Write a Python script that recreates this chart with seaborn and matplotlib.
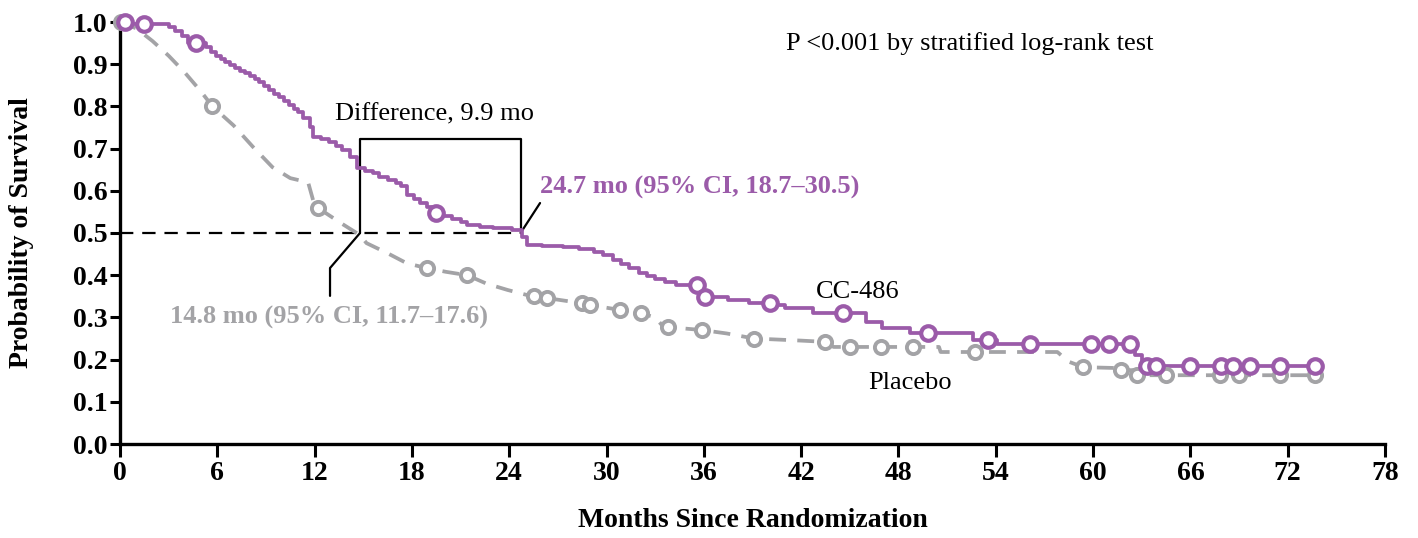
import numpy as np
import pandas as pd
import matplotlib
matplotlib.use("Agg")
import matplotlib.pyplot as plt
import seaborn as sns

# ---------------- data ----------------
# CC-486 Kaplan-Meier steps (time in months, survival probability after the step)
cc_times = [0, 0.5, 3.0, 3.4, 3.8, 4.2, 5.3, 5.6, 5.9, 6.2, 6.5, 6.8, 7.1, 7.4, 7.7, 8.0,
            8.3, 8.6, 8.9, 9.2, 9.5, 9.8, 10.1, 10.4, 10.7, 11.0, 11.3, 11.7, 11.9, 12.4,
            12.9, 13.3, 13.7, 14.2, 14.6, 15.1, 15.6, 16.0, 16.5, 17.0, 17.3, 17.7, 18.1,
            18.5, 18.9, 19.3, 19.9, 20.5, 21.0, 21.4, 22.2, 23.0, 24.2, 24.8, 25.1, 26.0,
            27.3, 28.3, 29.2, 29.8, 30.4, 30.9, 31.4, 32.0, 32.5, 33.0, 33.6, 34.3, 36.0,
            37.5, 38.8, 40.5, 41.0, 42.7, 46.0, 47.0, 48.7, 52.6, 54.1, 62.6, 63.0, 73.7]
cc_surv = [1.0, 0.995, 0.988, 0.978, 0.966, 0.95, 0.94, 0.93, 0.92, 0.912, 0.905, 0.898,
           0.892, 0.885, 0.878, 0.872, 0.865, 0.857, 0.848, 0.838, 0.83, 0.822, 0.812,
           0.803, 0.795, 0.786, 0.772, 0.752, 0.727, 0.722, 0.716, 0.706, 0.696, 0.680,
           0.655, 0.648, 0.642, 0.633, 0.625, 0.618, 0.612, 0.590, 0.580, 0.572, 0.562,
           0.548, 0.540, 0.532, 0.525, 0.519, 0.515, 0.512, 0.508, 0.490, 0.472, 0.470,
           0.467, 0.462, 0.455, 0.447, 0.436, 0.427, 0.417, 0.405, 0.398, 0.390, 0.383,
           0.377, 0.348, 0.341, 0.334, 0.329, 0.322, 0.310, 0.290, 0.275, 0.263, 0.246,
           0.238, 0.210, 0.185, 0.185]
cc_censor = [0.3, 1.5, 4.7, 19.5, 35.6, 36.1, 40.1, 44.6, 49.8, 53.5, 56.1, 59.9, 61.0,
             62.3, 63.3, 63.9, 66.0, 67.9, 68.6, 69.7, 71.5, 73.7]

# Placebo curve vertices
pl_times = [0, 1.0, 2.0, 3.0, 4.0, 5.0, 5.7, 7.0, 8.2, 9.4, 10.5, 11.6, 12.0, 12.5, 13.6,
            14.8, 15.2, 16.5, 17.7, 18.9, 20.1, 21.4, 22.6, 23.9, 25.1, 26.3, 28.4, 29.0,
            30.8, 32.1, 33.0, 33.5, 35.9, 37.4, 39.1, 42.0, 43.5, 44.0, 50.5, 50.6, 57.8,
            58.5, 59.4, 61.5, 61.7, 62.5, 62.7, 73.7]
pl_surv = [1.0, 0.985, 0.955, 0.92, 0.88, 0.835, 0.80, 0.755, 0.704, 0.656, 0.63, 0.62,
           0.565, 0.552, 0.524, 0.495, 0.476, 0.452, 0.428, 0.417, 0.408, 0.40, 0.38,
           0.365, 0.353, 0.346, 0.334, 0.329, 0.318, 0.31, 0.30, 0.278, 0.27, 0.262, 0.25,
           0.245, 0.242, 0.23, 0.23, 0.218, 0.218, 0.195, 0.182, 0.18, 0.175, 0.175, 0.163,
           0.163]
pl_censor = [0.05, 5.7, 12.2, 18.9, 21.4, 25.5, 26.3, 28.5, 29.0, 30.8, 32.1, 33.8, 35.9,
             39.1, 43.5, 45.0, 46.9, 48.9, 52.7, 59.4, 61.7, 62.7, 64.5, 67.8, 69.0, 71.5,
             73.7]

x_ticks = list(range(0, 79, 6))
y_ticks = [round(0.1 * i, 1) for i in range(11)]
median_cc = 24.7
median_pl = 14.8

PURPLE = "#9B5BA9"
GRAY = "#A3A3A6"

# ---------------- style ----------------
sns.set_theme(style="ticks")
plt.rcParams["font.family"] = ["Liberation Serif", "DejaVu Serif"]
for k in ["text.color", "axes.labelcolor", "xtick.color", "ytick.color", "axes.edgecolor"]:
    plt.rcParams[k] = "black"

fig = plt.figure(figsize=(14.18, 5.38), dpi=100)
ax = fig.add_axes([120 / 1418, 1 - 444 / 538, 1265 / 1418, 422 / 538])


def step_at(times, surv, t):
    idx = np.searchsorted(times, t, side="right") - 1
    return np.asarray(surv)[idx]


df_pl = pd.DataFrame({"t": pl_times, "s": pl_surv})
df_cc = pd.DataFrame({"t": cc_times, "s": cc_surv})

# reference median line
ax.plot([0, median_cc], [0.5, 0.5], color="black", lw=1.6, dashes=(6, 4), zorder=1)

sns.lineplot(data=df_pl, x="t", y="s", ax=ax, color=GRAY, lw=2.7,
             estimator=None, sort=False, zorder=2)
ax.lines[-1].set_dashes((4.5, 3.0))
ax.lines[-1].set_clip_on(False)
sns.lineplot(data=df_cc, x="t", y="s", ax=ax, color=PURPLE, lw=2.7,
             drawstyle="steps-post", estimator=None, sort=False, zorder=3)
ax.lines[-1].set_clip_on(False)

pl_cs = pd.DataFrame({"t": pl_censor, "s": np.interp(pl_censor, pl_times, pl_surv)})
cc_cs = pd.DataFrame({"t": cc_censor, "s": step_at(cc_times, cc_surv, cc_censor)})
sns.scatterplot(data=pl_cs, x="t", y="s", ax=ax, marker="o", s=90, facecolor="white",
                edgecolor=GRAY, linewidth=2.8, zorder=4, clip_on=False)
sns.scatterplot(data=cc_cs, x="t", y="s", ax=ax, marker="o", s=110, facecolor="white",
                edgecolor=PURPLE, linewidth=3.0, zorder=5, clip_on=False)

# difference bracket and leaders
top = 0.723
ax.plot([median_pl, median_pl, median_cc, median_cc], [0.5, top, top, 0.5],
        color="black", lw=1.6, zorder=1)
ax.plot([median_cc, 25.9], [0.5, 0.571], color="black", lw=1.6, zorder=1)
ax.plot([median_pl, 12.95, 12.95], [0.5, 0.417, 0.351], color="black", lw=1.6, zorder=1)

FS = 19
ax.text(19.4, 0.78, "Difference, 9.9 mo", ha="center", va="center", fontsize=FS)
ax.text(25.9, 0.607, "24.7 mo (95% CI, 18.7\u201330.5)", ha="left", va="center",
        fontsize=FS, fontweight="bold", color=PURPLE)
ax.text(3.1, 0.30, "14.8 mo (95% CI, 11.7\u201317.6)", ha="left", va="center",
        fontsize=FS, fontweight="bold", color=GRAY)
ax.text(52.4, 0.95, "P <0.001 by stratified log-rank test", ha="center", va="center",
        fontsize=FS)
ax.text(45.5, 0.36, "CC-486", ha="center", va="center", fontsize=FS)
ax.text(48.7, 0.145, "Placebo", ha="center", va="center", fontsize=FS)

# axes
ax.set_xlim(0, 78)
ax.set_ylim(0, 1.0)
ax.set_xticks(x_ticks)
ax.set_xticklabels([str(v) for v in x_ticks])
ax.set_yticks(y_ticks)
ax.set_yticklabels([f"{v:.1f}" for v in y_ticks])
for lab in ax.get_xticklabels() + ax.get_yticklabels():
    lab.set_fontweight("bold")
    lab.set_fontsize(20)
ax.tick_params(axis="both", width=2.2, length=7, direction="out", pad=2)
ax.tick_params(axis="x", length=9.5, pad=3)
sns.despine(ax=ax)
for sp in ["left", "bottom"]:
    ax.spines[sp].set_linewidth(2.4)
ax.set_xlabel("Months Since Randomization", fontsize=20, fontweight="bold")
ax.set_ylabel("Probability of Survival", fontsize=20, fontweight="bold")
ax.xaxis.set_label_coords(0.5, -(508 - 444) / 422)
ax.yaxis.set_label_coords((34 - 120) / 1265, 0.5)

fig.savefig("out.png", dpi=100)
